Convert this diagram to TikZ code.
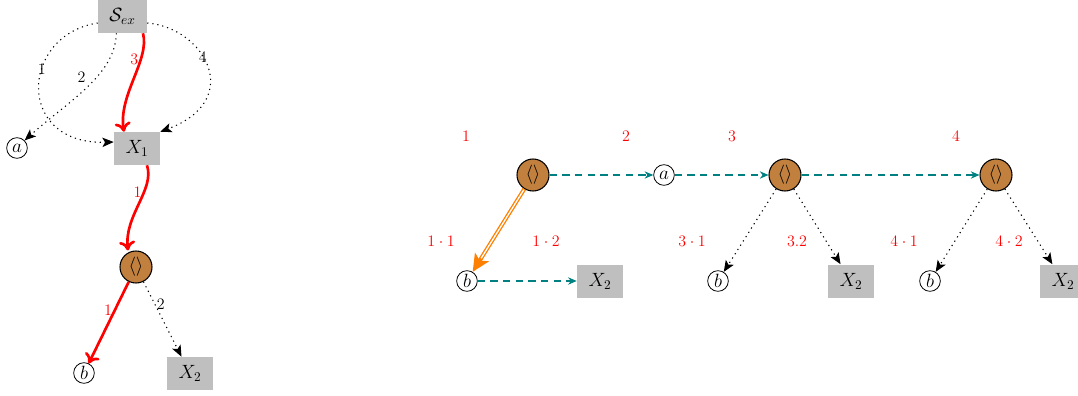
\documentclass[tikz,border=0pt]{standalone}
\usetikzlibrary{arrows.meta}
\definecolor{nutbrown}{RGB}{193,128,62}
\begin{document}
\begin{tikzpicture}[x=0.75pt,y=0.75pt,
  every node/.style={font=\fontsize{12}{14}\selectfont},
  state/.style={fill=gray!50, minimum width=34.5pt, minimum height=24.75pt, inner sep=0pt, font=\fontsize{14}{16}\selectfont},
  leaf/.style={draw, circle, inner sep=0pt, minimum size=15.5pt, line width=0.6pt, font=\fontsize{15}{17}\selectfont},
  junction/.style={draw, circle, fill=nutbrown, inner sep=0pt, minimum size=24pt, line width=0.8pt, font=\fontsize{14}{16}\selectfont},
  lbl/.style={text=red},
  elbl/.style={inner sep=1pt},
  trial/.style={line width=0.8pt, dash pattern=on 0.9pt off 2.9pt, -{Stealth[length=8.5pt,width=7pt,inset=2pt]}},
  chosen/.style={red, line width=2pt, -{Computer Modern Rightarrow[length=7pt,width=12pt]}},
  seq/.style={teal, line width=0.8pt, dash pattern=on 5.5pt off 4pt, -{Stealth[length=6.5pt,width=5.5pt]}},
  pickouter/.style={orange, line width=3pt, -{Stealth[length=13pt,width=12pt,inset=3pt]}},
  pickcore/.style={white, line width=1pt, shorten >=12pt, shorten <=0.6pt}
]
\useasboundingbox (0,0) rectangle (1078,-396);

% ---- left: derivation tree ----
\node[state, minimum width=36.75pt] (S) at (122.5,-16.5) {$\mathcal{S}_{ex}$};
\node[leaf] (a) at (17,-148) {$a$};
\node[state] (X1) at (137,-148.5) {$X_1$};
\node[junction] (K) at (136,-267) {$\langle\rangle$};
\node[leaf] (b) at (84,-373) {$b$};
\node[state] (X2) at (190,-373.5) {$X_2$};

\draw[trial] (S.250) .. controls (115,-75) and (70,-100) .. (a.45)
  node[pos=0.4, anchor=east, inner sep=8pt] {2};
\draw[trial] (S.west |- 0,-23) .. controls (20,-35) and (15,-145) .. (X1.west |- 0,-142)
  node[pos=0.39] {1};
\draw[trial] (S.east |- 0,-23) .. controls (205,-28) and (245,-100) .. (X1.north east)
  node[pos=0.42] {4};
\draw[chosen] (S.south -| 143,0) .. controls (150,-60) and (118,-95) .. (X1.north -| 124,0)
  node[pos=0.3, anchor=east, elbl, lbl] {3};
\draw[chosen] (X1.south -| 147,0) .. controls (155,-190) and (124,-215) .. (K.north -| 128,0)
  node[pos=0.35, anchor=east, elbl, lbl] {1};
\draw[chosen] (K) -- node[pos=0.35, anchor=east, elbl, lbl] {1} (b);
\draw[trial] (K) -- node[pos=0.3, anchor=west, elbl] {2} (X2);

% ---- right: sequence of alternatives ----
\node[junction] (K1) at (533,-175) {$\langle\rangle$};
\node[leaf] (a2) at (664,-175) {$a$};
\node[junction] (K2) at (785,-175) {$\langle\rangle$};
\node[junction] (K3) at (996,-175) {$\langle\rangle$};
\node[leaf] (b1) at (467,-281) {$b$};
\node[state] (Y1) at (600,-281) {$X_2$};
\node[leaf] (b2) at (718,-281) {$b$};
\node[state] (Y2) at (851,-281) {$X_2$};
\node[leaf] (b3) at (930,-281) {$b$};
\node[state] (Y3) at (1063,-281) {$X_2$};

\node[lbl] (l1) at (466,-136) {$1$};
\node[lbl] (l2) at (626,-136) {$2$};
\node[lbl] (l3) at (732,-136) {$3$};
\node[lbl] (l4) at (956,-136) {$4$};
\node[lbl] (l11) at (441,-241) {$1\cdot1$};
\node[lbl] (l12) at (546,-241) {$1\cdot2$};
\node[lbl] (l31) at (692,-241) {$3\cdot1$};
\node[lbl] (l32) at (797,-241) {$3.2$};
\node[lbl] (l41) at (904,-241) {$4\cdot1$};
\node[lbl] (l42) at (1009,-241) {$4\cdot2$};

\draw[seq] (K1) -- (a2);
\draw[seq] (a2) -- (K2);
\draw[seq] (K2) -- (K3);
\draw[seq] (b1) -- (Y1);
% double orange arrow: wide stroke with tip, hollowed by a white core
\draw[pickouter] (K1) -- (b1);
\draw[pickcore] (K1) -- (b1);
\draw[trial] (K2) -- (b2);
\draw[trial] (K2) -- (Y2);
\draw[trial] (K3) -- (b3);
\draw[trial] (K3) -- (Y3);
\end{tikzpicture}
\end{document}
